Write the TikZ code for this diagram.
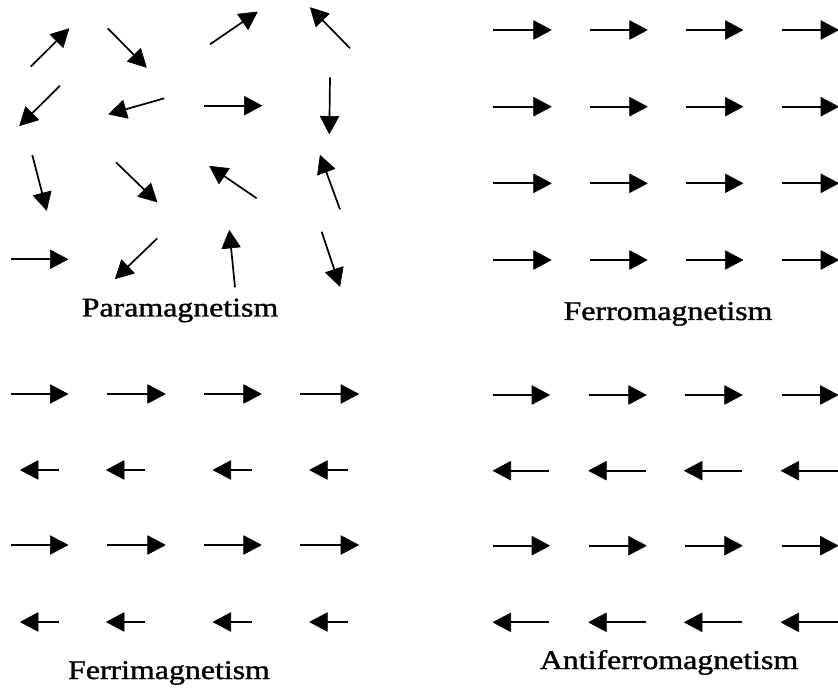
\documentclass[tikz,border=0pt]{standalone}
\usepackage{fontspec}
\setmainfont{Liberation Serif}
\newfontfamily\lblfont[FakeBold=1.2]{Liberation Serif}
\tikzset{
  spinline/.style={line width=1.7pt},
  spinhead/.style={fill=black, draw=black, line width=0.6pt, line join=round},
  lbl/.style={anchor=base, inner sep=0pt, font=\lblfont\fontsize{27}{30}\selectfont, xscale=1.18}
}
\newcommand\spinarrow[4]{%
  \pgfmathsetmacro\spang{atan2(#2-#4,#3-#1)}%
  \pgfmathsetmacro\splen{veclen(#3-#1,#2-#4)}%
  \begin{scope}[shift={(#3pt,-#4pt)}, rotate=\spang]
    \draw[spinline] (-\splen pt,0) -- (-12pt,0);
    \filldraw[spinhead] (-0.5pt,0) -- (-18pt,9.3pt) -- (-18pt,-9.3pt) -- cycle;
  \end{scope}}
\begin{document}
\begin{tikzpicture}
\useasboundingbox (0,0) rectangle (838pt,-692pt);
% Paramagnetism
\spinarrow{30.7}{66.7}{69.3}{28.3}
\spinarrow{107.7}{28.3}{146.7}{67.7}
\spinarrow{210}{44.3}{257.7}{11.7}
\spinarrow{350}{48.3}{310}{7.3}
\spinarrow{60}{85.7}{19.3}{126}
\spinarrow{164.3}{98.3}{108.3}{114.3}
\spinarrow{204.3}{105.7}{262.3}{105.7}
\spinarrow{330}{77.3}{329.3}{134.3}
\spinarrow{32.3}{155}{46.7}{210.7}
\spinarrow{116}{162.3}{157.3}{202.3}
\spinarrow{256.7}{198.3}{209.3}{166}
\spinarrow{340}{209.3}{320}{155}
\spinarrow{10.7}{259.3}{68.3}{259.3}
\spinarrow{157.3}{238.3}{115}{279}
\spinarrow{235}{287.3}{229.3}{230}
\spinarrow{321.7}{231.7}{340}{286.7}
\node[lbl] (para) at (180pt,-316.5pt) {Paramagnetism};
% Ferromagnetism
\foreach \y in {30,106.7,183.3,260}{
  \spinarrow{493.3}{\y}{551.7}{\y}
  \spinarrow{590}{\y}{647.7}{\y}
  \spinarrow{686}{\y}{743.3}{\y}
  \spinarrow{781.7}{\y}{839}{\y}
}
\node[lbl] (ferro) at (668pt,-320pt) {Ferromagnetism};
% Ferrimagnetism
\foreach \y in {394,545}{
  \spinarrow{10.7}{\y}{68.3}{\y}
  \spinarrow{107.3}{\y}{165.7}{\y}
  \spinarrow{204.3}{\y}{261.7}{\y}
  \spinarrow{300}{\y}{359}{\y}
}
\foreach \y in {470,622}{
  \spinarrow{59}{\y}{20}{\y}
  \spinarrow{145}{\y}{106}{\y}
  \spinarrow{251.7}{\y}{212.7}{\y}
  \spinarrow{348.3}{\y}{309.3}{\y}
}
\node[lbl] (ferri) at (169pt,-679pt) {Ferrimagnetism};
% Antiferromagnetism
\foreach \y in {395,545.7}{
  \spinarrow{493.3}{\y}{550}{\y}
  \spinarrow{589.3}{\y}{646.7}{\y}
  \spinarrow{685}{\y}{742.7}{\y}
  \spinarrow{781.7}{\y}{838.5}{\y}
}
\foreach \y in {470.7,622.3}{
  \spinarrow{549.3}{\y}{492.7}{\y}
  \spinarrow{646}{\y}{588.3}{\y}
  \spinarrow{741.7}{\y}{684}{\y}
  \spinarrow{845}{\y}{780.7}{\y}
}
\node[lbl] (antiferro) at (669pt,-669pt) {Antiferromagnetism};
\end{tikzpicture}
\end{document}
